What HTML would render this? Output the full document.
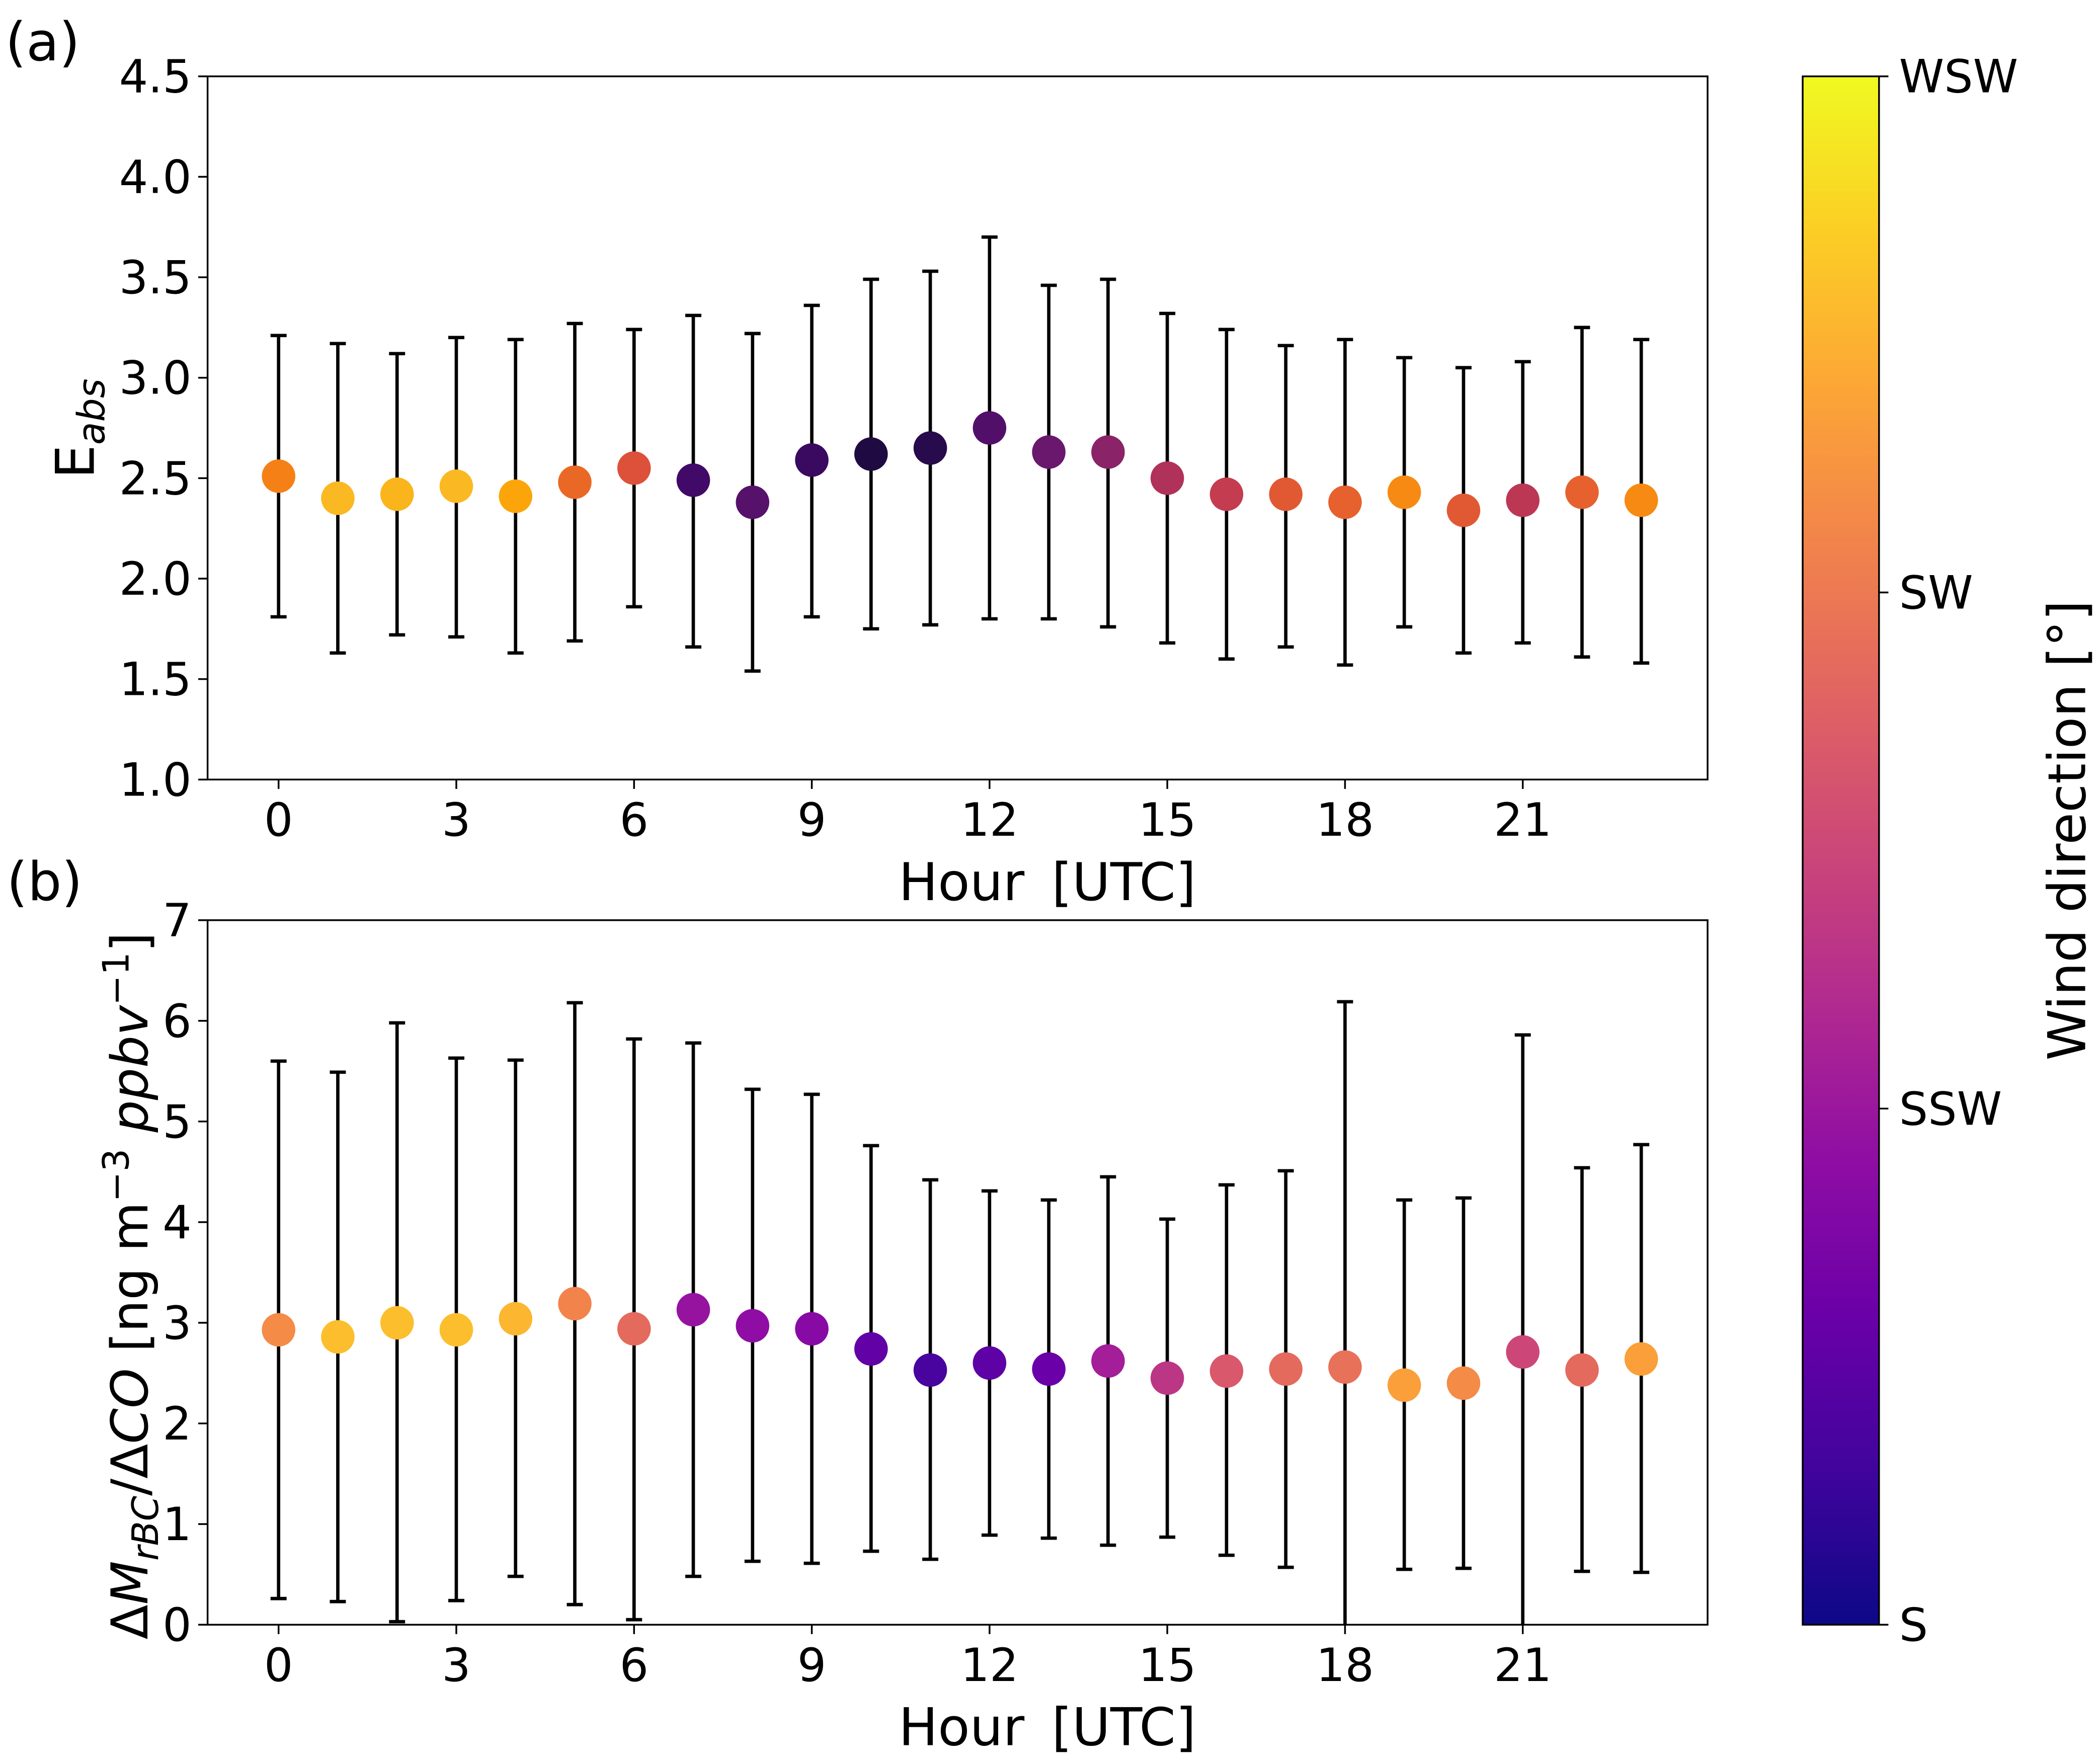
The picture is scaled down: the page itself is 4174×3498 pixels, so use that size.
<!DOCTYPE html>
<html><head><meta charset="utf-8"><style>
html,body{margin:0;padding:0;background:#fff}
svg{display:block;font-family:"DejaVu Sans","Liberation Sans",sans-serif}
</style></head><body>
<svg id="chart" width="4174" height="3498" viewBox="0 0 1568 1314" preserveAspectRatio="none" xmlns="http://www.w3.org/2000/svg">
<defs>
<linearGradient id="cbgrad" x1="0" y1="1" x2="0" y2="0">
<stop offset="0" stop-color="#0d0887"/><stop offset="0.1" stop-color="#41049d"/><stop offset="0.2" stop-color="#6a00a8"/><stop offset="0.3" stop-color="#8f0da4"/><stop offset="0.4" stop-color="#b12a90"/><stop offset="0.5" stop-color="#cc4778"/><stop offset="0.6" stop-color="#e16462"/><stop offset="0.7" stop-color="#f2844b"/><stop offset="0.8" stop-color="#fca636"/><stop offset="0.9" stop-color="#fcce25"/><stop offset="1" stop-color="#f0f921"/>
</linearGradient>
<clipPath id="clipA"><rect x="155" y="57" width="1120" height="525"/></clipPath>
<clipPath id="clipB"><rect x="155" y="687" width="1120" height="526"/></clipPath>
</defs>
<g id="root"></g>
</svg>
<script>
const hours = [0,1,2,3,4,5,6,7,8,9,10,11,12,13,14,15,16,17,18,19,20,21,22,23];
const aMean = [2.51,2.40,2.42,2.46,2.41,2.48,2.55,2.49,2.38,2.59,2.62,2.65,2.75,2.63,2.63,2.50,2.42,2.42,2.38,2.43,2.34,2.39,2.43,2.39];
const aLow  = [1.81,1.63,1.72,1.71,1.63,1.69,1.86,1.66,1.54,1.81,1.75,1.77,1.80,1.80,1.76,1.68,1.60,1.66,1.57,1.76,1.63,1.68,1.61,1.58];
const aHigh = [3.21,3.17,3.12,3.20,3.19,3.27,3.24,3.31,3.22,3.36,3.49,3.53,3.70,3.46,3.49,3.32,3.24,3.16,3.19,3.10,3.05,3.08,3.25,3.19];
const aWind = [0.72,0.84,0.83,0.84,0.80,0.66,0.60,0.20,0.25,0.18,0.12,0.14,0.24,0.30,0.38,0.47,0.52,0.62,0.64,0.74,0.62,0.50,0.64,0.74];
const bMean = [2.93,2.86,3.00,2.93,3.04,3.19,2.94,3.13,2.97,2.94,2.74,2.53,2.60,2.54,2.62,2.45,2.52,2.54,2.56,2.38,2.40,2.71,2.53,2.64];
const bLow  = [0.26,0.23,0.03,0.24,0.48,0.20,0.05,0.48,0.63,0.61,0.73,0.65,0.89,0.86,0.79,0.87,0.69,0.57,-0.1,0.55,0.56,-0.1,0.53,0.52];
const bHigh = [5.60,5.49,5.98,5.63,5.61,6.18,5.82,5.78,5.32,5.27,4.76,4.42,4.31,4.22,4.45,4.03,4.37,4.51,6.19,4.22,4.24,5.86,4.54,4.77];
const bWind = [0.72,0.86,0.86,0.86,0.84,0.70,0.62,0.32,0.30,0.28,0.18,0.12,0.17,0.20,0.36,0.44,0.56,0.62,0.64,0.78,0.72,0.50,0.62,0.78];
const xTicks = [0,3,6,9,12,15,18,21];
const aTicks = ["1.0","1.5","2.0","2.5","3.0","3.5","4.0","4.5"];
const bTicks = ["0","1","2","3","4","5","6","7"];
const cbLabels = ["S","SSW","SW","WSW"];

const plasma=["#0d0887","#41049d","#6a00a8","#8f0da4","#b12a90","#cc4778","#e16462","#f2844b","#fca636","#fcce25","#f0f921"];
const inferno=["#000004","#160b39","#420a68","#6a176e","#932667","#bc3754","#dd513a","#f37819","#fca50a","#f6d746","#fcffa4"];
function cmap(stops,t){t=Math.max(0,Math.min(1,t));const p=t*10,i=Math.min(9,Math.floor(p)),f=p-i;
 const h=s=>[1,3,5].map(k=>parseInt(s.substr(k,2),16));const a=h(stops[i]),b=h(stops[i+1]);
 return "rgb("+a.map((v,k)=>Math.round(v+(b[k]-v)*f)).join(",")+")";}
const NS="http://www.w3.org/2000/svg";
const root=document.getElementById("root");
function el(tag,attrs,parent,text){const e=document.createElementNS(NS,tag);for(const k in attrs)e.setAttribute(k,attrs[k]);if(text!==undefined)e.textContent=text;(parent||root).appendChild(e);return e;}
const xScale=h=>208+h*(1137-208)/21;

function panel(key,top,bottom,ymin,ymax,ticks,mean,low,high,wind,stops,clip){
 const y=v=>bottom-(v-ymin)/(ymax-ymin)*(bottom-top);
 const g=el("g",{});
 
 
 const frame=el("rect",{x:155,y:top,width:1120,height:bottom-top,fill:"none",stroke:"#000","stroke-width":1.3},g);
 
 
 ticks.forEach(t=>{const yy=y(parseFloat(t));
  el("line",{x1:148,x2:155,y1:yy,y2:yy,stroke:"#000","stroke-width":1.3},g);
  const tx=el("text",{x:143,y:yy+12,"text-anchor":"end","font-size":34},g,t);
  
  });
 xTicks.forEach(h=>{const xx=xScale(h);
  el("line",{x1:xx,x2:xx,y1:bottom,y2:bottom+7,stroke:"#000","stroke-width":1.3},g);
  const tx=el("text",{x:xx,y:bottom+42,"text-anchor":"middle","font-size":34},g,String(h));
  
  });
 const xl=el("text",{x:782,y:bottom+90,"text-anchor":"middle","font-size":39,"word-spacing":8},g,"Hour [UTC]");
 
 
 const cg=el("g",{"clip-path":"url(#"+clip+")"},g);
 hours.forEach((h,i)=>{const xx=xScale(h);
  const eb=el("g",{},cg);
  
  
  el("line",{x1:xx,x2:xx,y1:y(low[i]),y2:y(high[i]),stroke:"#000","stroke-width":2.5},eb);
  el("line",{x1:xx-6,x2:xx+6,y1:y(low[i]),y2:y(low[i]),stroke:"#000","stroke-width":2.5},eb);
  el("line",{x1:xx-6,x2:xx+6,y1:y(high[i]),y2:y(high[i]),stroke:"#000","stroke-width":2.5},eb);});
 hours.forEach((h,i)=>{
  const c=el("circle",{cx:xScale(h),cy:y(mean[i]),r:12.5,fill:cmap(stops,wind[i])},cg);
  
  });
}
panel("a",57,582,1,4.5,aTicks,aMean,aLow,aHigh,aWind,inferno,"clipA");
panel("b",687,1213,0,7,bTicks,bMean,bLow,bHigh,bWind,plasma,"clipB");

let t;
t=el("text",{x:4,y:45,"font-size":40},root,"(a)");


t=el("text",{x:5,y:672,"font-size":40},root,"(b)");


t=el("text",{transform:"translate(70,320) rotate(-90)","text-anchor":"middle","font-size":40},root);


t.innerHTML='E<tspan font-size="28" font-style="italic" dy="8">abs</tspan>';
t=el("text",{transform:"translate(110,960) rotate(-90)","text-anchor":"middle","font-size":38},root);


t.innerHTML='Δ<tspan font-style="italic">M</tspan><tspan font-size="27" font-style="italic" dy="8">rBC</tspan><tspan dy="-8">/Δ</tspan><tspan font-style="italic">CO</tspan> [ng m<tspan font-size="27" dy="-14">−3</tspan><tspan dy="14">  </tspan><tspan font-style="italic">ppbv</tspan><tspan font-size="27" dy="-14">−1</tspan><tspan dy="14">]</tspan>';

const cb=el("rect",{x:1346,y:57,width:57,height:1156,fill:"url(#cbgrad)",stroke:"#000","stroke-width":1.3});


cbLabels.forEach((s,i)=>{const yy=1213-i*(1156/3);
 el("line",{x1:1403,x2:1410,y1:yy,y2:yy,stroke:"#000","stroke-width":1.3});
 const tx=el("text",{x:1418,y:yy+12,"font-size":34},root,s);
 
 });
t=el("text",{transform:"translate(1557,620) rotate(-90)","text-anchor":"middle","font-size":39},root,"Wind direction [°]");


</script>
</body></html>
